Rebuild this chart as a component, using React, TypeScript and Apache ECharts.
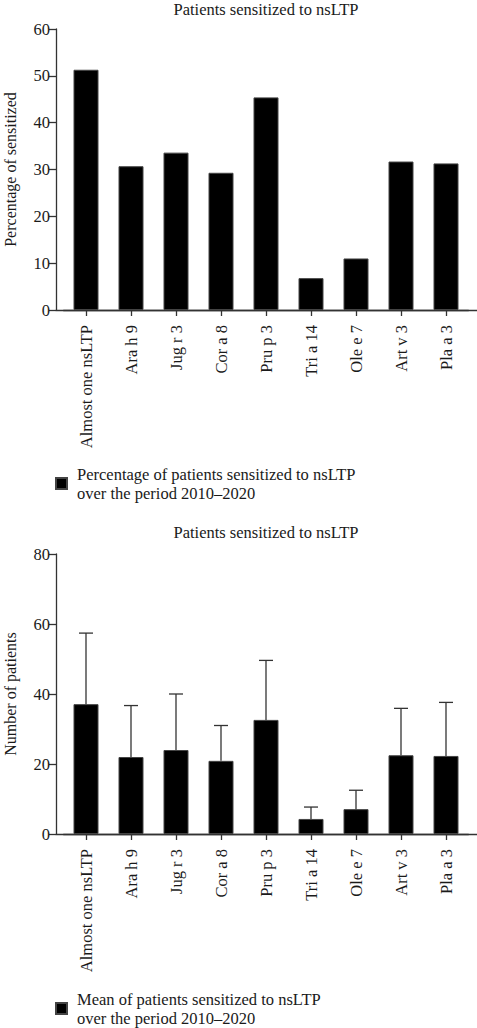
import React, { useEffect, useRef } from "react";
import * as echarts from "echarts";

const categories = [
  "Almost one nsLTP",
  "Ara h 9",
  "Jug r 3",
  "Cor a 8",
  "Pru p 3",
  "Tri a 14",
  "Ole e 7",
  "Art v 3",
  "Pla a 3",
];
const percentSensitized = [51.3, 30.7, 33.6, 29.3, 45.4, 6.8, 11.0, 31.7, 31.3];
const meanPatients = [37.1, 22.0, 24.0, 20.9, 32.6, 4.3, 7.1, 22.5, 22.3];
const meanPlusSD = [57.4, 36.7, 40.0, 31.0, 49.6, 7.7, 12.5, 35.9, 37.6];

const chartTitle = "Patients sensitized to nsLTP";
const topYName = "Percentage of sensitized";
const bottomYName = "Number of patients";
const topLegend = "Percentage of patients sensitized to nsLTP\nover the period 2010–2020";
const bottomLegend = "Mean of patients sensitized to nsLTP\nover the period 2010–2020";

const FONT = "Liberation Serif";
const FS = 16.5;
const AXIS = "#333";
const TXT = "#1a1a1a";

export default function App() {
  const ref = useRef<HTMLDivElement>(null);
  useEffect(() => {
    if (!ref.current) return;
    const chart = echarts.init(ref.current, undefined, { renderer: "svg" });

    const yAxisBase = (gridIndex: number, max: number, interval: number, name: string) => ({
      type: "value",
      gridIndex,
      min: 0,
      max,
      interval,
      offset: 7.5,
      name,
      nameLocation: "middle",
      nameRotate: 90,
      nameGap: 38,
      nameTextStyle: { fontFamily: FONT, fontSize: 16, color: TXT },
      axisLine: { show: true, lineStyle: { color: AXIS, width: 1.3 } },
      axisTick: { show: true, length: 7, lineStyle: { color: AXIS, width: 1.3 } },
      axisLabel: { fontFamily: FONT, fontSize: FS, color: TXT, margin: 6 },
      splitLine: { show: false },
    });
    const xCat = (gridIndex: number) => ({
      type: "category",
      gridIndex,
      data: categories,
      axisLine: { show: true, lineStyle: { color: AXIS, width: 1.3 } },
      axisTick: { show: true, alignWithLabel: true, length: 6, lineStyle: { color: AXIS, width: 1.3 } },
      axisLabel: { rotate: 90, fontFamily: FONT, fontSize: FS, color: TXT, margin: 15, interval: 0 },
    });
    const xLine = (gridIndex: number) => ({
      type: "value",
      gridIndex,
      min: 0,
      max: 1,
      axisLine: { show: true, lineStyle: { color: AXIS, width: 1.3 } },
      axisTick: { show: false },
      axisLabel: { show: false },
      splitLine: { show: false },
    });
    const yHidden = (gridIndex: number) => ({ type: "value", gridIndex, min: 0, max: 1, show: false });

    const legendBase = {
      orient: "vertical",
      icon: "rect",
      itemWidth: 11,
      itemHeight: 11,
      padding: 0,
      textStyle: {
        fontFamily: FONT,
        fontSize: FS,
        color: TXT,
        lineHeight: 19,
        padding: [19, 0, 0, 5],
      },
    };

    const gridBase = { outerBoundsMode: "none", containLabel: false };

    chart.setOption({
      animation: false,
      backgroundColor: "#fff",
      grid: [
        { ...gridBase, left: 63.5, width: 405, top: 29, height: 281 },
        { ...gridBase, left: 56, width: 421, top: 29, height: 281 },
        { ...gridBase, left: 63.5, width: 405, top: 554, height: 280 },
        { ...gridBase, left: 56, width: 421, top: 554, height: 280 },
      ],
      xAxis: [xCat(0), xLine(1), xCat(2), xLine(3)],
      yAxis: [
        yAxisBase(0, 60, 10, topYName),
        yHidden(1),
        yAxisBase(2, 80, 20, bottomYName),
        yHidden(3),
      ],
      legend: [
        { ...legendBase, left: 55, top: 455, data: [topLegend] },
        { ...legendBase, left: 55, top: 980, data: [bottomLegend] },
      ],
      graphic: [
        {
          type: "text",
          x: 266,
          y: 9,
          style: { text: chartTitle, fontFamily: FONT, fontSize: FS, fill: TXT, align: "center", verticalAlign: "middle" },
        },
        {
          type: "text",
          x: 266,
          y: 532,
          style: { text: chartTitle, fontFamily: FONT, fontSize: FS, fill: TXT, align: "center", verticalAlign: "middle" },
        },
      ],
      series: [
        {
          type: "bar",
          name: topLegend,
          xAxisIndex: 0,
          yAxisIndex: 0,
          data: percentSensitized,
          barWidth: 25,
          itemStyle: { color: "#000", borderColor: "#444", borderWidth: 1 },
        },
        {
          type: "bar",
          name: bottomLegend,
          xAxisIndex: 2,
          yAxisIndex: 2,
          data: meanPatients,
          barWidth: 25,
          itemStyle: { color: "#000", borderColor: "#444", borderWidth: 1 },
        },
        {
          type: "custom",
          name: "SD",
          xAxisIndex: 2,
          yAxisIndex: 2,
          z: 5,
          data: categories.map((_, i) => [i, meanPatients[i], meanPlusSD[i]]),
          renderItem: (params: any, api: any) => {
            const i = api.value(0);
            const p0 = api.coord([i, api.value(1)]);
            const p1 = api.coord([i, api.value(2)]);
            const st = { stroke: AXIS, lineWidth: 1.3 };
            return {
              type: "group",
              children: [
                { type: "line", shape: { x1: p0[0], y1: p0[1], x2: p1[0], y2: p1[1] }, style: st },
                { type: "line", shape: { x1: p1[0] - 7, y1: p1[1], x2: p1[0] + 7, y2: p1[1] }, style: st },
              ],
            };
          },
        },
      ],
    });
    return () => chart.dispose();
  }, []);
  return (
    <div
      ref={ref}
      style={{ position: "absolute", left: 0, top: 0, width: 477, height: 1028, background: "#fff" }}
    />
  );
}
